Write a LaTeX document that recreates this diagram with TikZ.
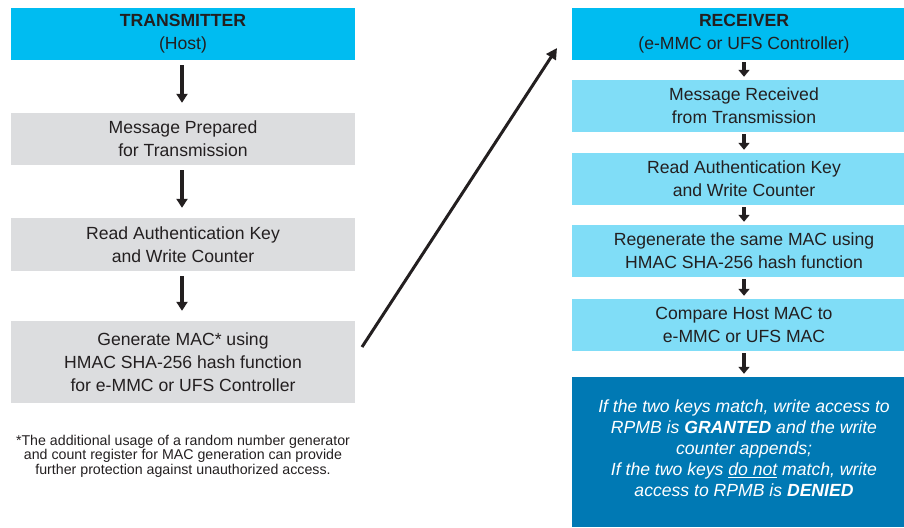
\documentclass[tikz,border=0pt]{standalone}
\usepackage{fontspec}
\setmainfont{Liberation Sans}
\usetikzlibrary{arrows.meta}
\definecolor{hdrblue}{HTML}{00BCF1}
\definecolor{lightblue}{HTML}{80DDF7}
\definecolor{boxgray}{HTML}{DCDDDF}
\definecolor{deepblue}{HTML}{0079B4}
\definecolor{inkgray}{HTML}{231F20}
\begin{document}
\begin{tikzpicture}[x=1pt,y=-1pt,
  box/.style={rectangle,inner sep=0pt,minimum width=344pt,align=center,text=inkgray,
    font=\fontsize{17.6}{23}\selectfont},
  hdr/.style={box,fill=hdrblue,minimum height=52pt},
  txbox/.style={box,fill=boxgray},
  rxbox/.style={box,fill=lightblue,minimum height=52pt},
  longarr/.style={line width=3.2pt,inkgray,-{Triangle[length=9pt,width=11pt]},shorten <=5pt,shorten >=10pt},
  shortarr/.style={line width=3.6pt,inkgray,-{Triangle[length=7pt,width=11pt]},shorten <=2pt,shorten >=3pt}]
 	\useasboundingbox (0,0) rectangle (904,527);
 	% transmitter side
 	\node[hdr] (tx) at (183,34) {\textbf{TRANSMITTER}\\(Host)};
 	\node[txbox,minimum height=52pt] (prep) at (183,139) {Message Prepared\\for Transmission};
 	\node[txbox,minimum height=53pt] (txkey) at (183,244.5) {Read Authentication Key\\and Write Counter};
 	\node[txbox,minimum height=82pt] (gen) at (183,362) {Generate MAC* using\\HMAC SHA-256 hash function\\for e-MMC or UFS Controller};
 	\node[align=center,text=inkgray,inner sep=0pt,font=\fontsize{14.2}{14.6}\selectfont] (note) at (183,456)
 	  {*The additional usage of a random number generator\\and count register for MAC generation can provide\\further protection against unauthorized access.};
 	\draw[longarr] (tx.south -| 182,0) -- (prep.north -| 182,0);
 	\draw[longarr] (prep.south -| 182,0) -- (txkey.north -| 182,0);
 	\draw[longarr] (txkey.south -| 182,0) -- (gen.north -| 182,0);
 	% receiver side
 	\node[hdr] (rx) at (744,34) {\textbf{RECEIVER}\\(e-MMC or UFS Controller)};
 	\node[rxbox] (recv) at (744,106) {Message Received\\from Transmission};
 	\node[rxbox] (rxkey) at (744,179) {Read Authentication Key\\and Write Counter};
 	\node[rxbox] (regen) at (744,251) {Regenerate the same MAC using\\HMAC SHA-256 hash function};
 	\node[rxbox] (cmp) at (744,325) {Compare Host MAC to\\e-MMC or UFS MAC};
 	\node[box,fill=deepblue,minimum height=150pt,text=white,font=\fontsize{17.6}{20.8}\selectfont\itshape] (result) at (744,452)
 	  {If the two keys match, write access to\\RPMB is \textbf{GRANTED} and the write\\counter appends;\\If the two keys \underline{do not} match, write\\access to RPMB is \textbf{DENIED}\\[-13pt]\mbox{}};
 	\draw[shortarr] (rx) -- (recv);
 	\draw[shortarr] (recv) -- (rxkey);
 	\draw[shortarr] (rxkey) -- (regen);
 	\draw[shortarr] (regen) -- (cmp);
 	\draw[shortarr] (cmp) -- (result);
 	% host to controller
 	\coordinate (sendA) at (362,347);
 	\coordinate (sendB) at (557,48);
 	\draw[line width=3pt,inkgray,-{Triangle[length=11pt,width=11pt]}] (sendA) -- (sendB);
\end{tikzpicture}
\end{document}
